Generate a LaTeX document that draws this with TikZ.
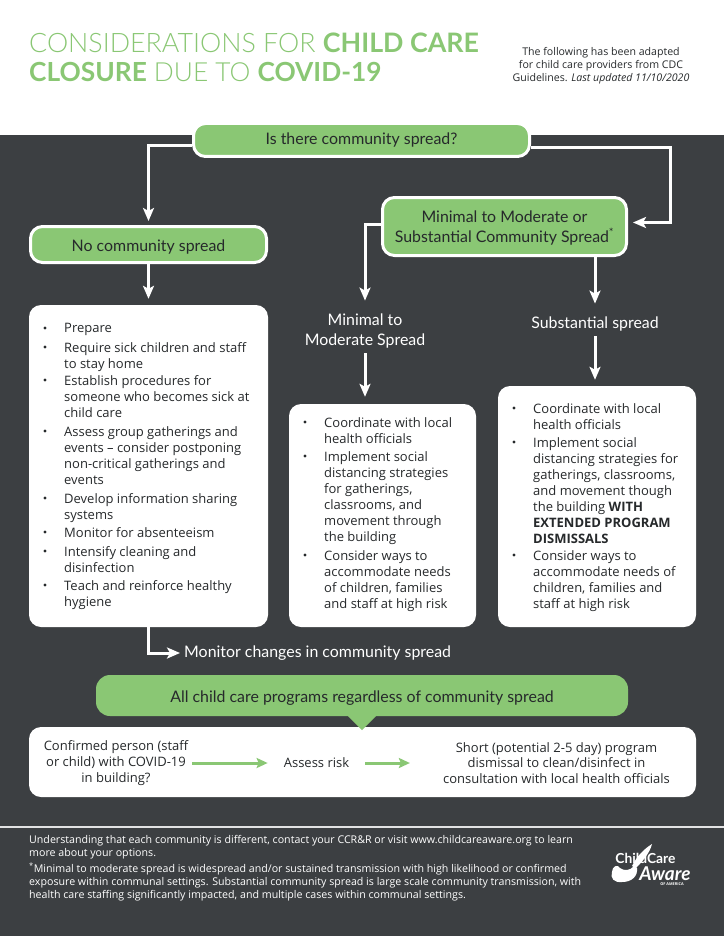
\documentclass[tikz,border=0pt]{standalone}
\usepackage{fontspec}
\usetikzlibrary{arrows.meta}
\setmainfont{Open Sans}
\newfontfamily\headfont{Lato}
\newfontfamily\lightfont{Lato Light}
\definecolor{ccgreen}{HTML}{8AC774}
\definecolor{ccdark}{HTML}{3C3F42}
\definecolor{cctext}{HTML}{26292B}
\tikzset{
 flowbox/.style={draw=white,line width=3pt,fill=ccgreen,rounded corners=12pt,inner sep=0pt,align=center,
  text=cctext,font=\headfont\fontsize{15.9}{20}\selectfont},
 listbox/.style={fill=white,rounded corners=12pt,inner sep=0pt},
 listitem/.style={anchor=north west,inner sep=0pt,yshift=-3.2pt,align=left,text=cctext,font=\fontsize{13}{16}\selectfont},
 flowarrow/.style={draw=white,line width=3pt,-{Stealth[length=13pt,width=11pt,inset=3pt]}},
 greenarrow/.style={draw=ccgreen,line width=3pt,-{Stealth[length=11pt,width=10pt,inset=2pt]}},
 floathead/.style={inner sep=0pt,align=center,text=white,font=\headfont\fontsize{15.9}{20}\selectfont},
 stepnote/.style={inner sep=0pt,yshift=-1pt,align=center,text=cctext,font=\fontsize{13}{15.6}\selectfont},
 footnote/.style={anchor=north west,inner sep=0pt,align=left,text=white,font=\fontsize{10.65}{13}\selectfont}
}
\begin{document}
\begin{tikzpicture}[x=1pt,y=-1pt]
 \useasboundingbox (0,0) rectangle (724,936);
 \path[fill=ccdark] (0,135) rectangle (724,936);
 \path[fill=white!85!ccdark] (0,826) rectangle (724,828);
 % title
 \node[anchor=base west,inner sep=0pt,text=ccgreen,font=\lightfont\fontsize{26.8}{29}\selectfont] (titleone) at (29,53)
  {CONSIDERATIONS FOR {\headfont\bfseries CHILD CARE}};
 \node[anchor=base west,inner sep=0pt,text=ccgreen,font=\lightfont\fontsize{26.3}{29}\selectfont] (titletwo) at (29,82)
  {{\headfont\bfseries CLOSURE} DUE TO {\headfont\bfseries COVID-19}};
 \node[inner sep=0pt,align=center,text=cctext,font=\fontsize{10.6}{13}\selectfont] (adapted) at (601,66)
  {The following has been adapted\\for child care providers from CDC\\Guidelines. \textit{Last updated 11/10/2020}};

 % flow boxes
 \node[flowbox,minimum width=336pt,minimum height=33pt] (isspread) at (361.5,140) {Is there community spread?};
 \node[flowbox,minimum width=236pt,minimum height=36pt,text height=14pt,text depth=0pt] (nospread) at (148.5,244.5) {No community spread};
 \node[flowbox,minimum width=244pt,minimum height=58pt,text depth=0pt] (minimal) at (504.5,226.5)
  {Minimal to Moderate or\\Substantial Community Spread\textsuperscript{*}};
 \node[floathead] (minimaltext) at (365,331) {Minimal to\\Moderate Spread};
 \node[floathead] (substantialtext) at (595,324) {Substantial spread};
 \node[floathead,anchor=west] (monitor) at (184,653) {Monitor changes in community spread};

 % white boxes
 \node[listbox,minimum width=239pt,minimum height=322pt] (leftbox) at (148.5,466) {};
 \node[listbox,minimum width=187pt,minimum height=223pt] (middlebox) at (382.5,515.5) {};
 \node[listbox,minimum width=198pt,minimum height=241pt] (rightbox) at (597,506.5) {};

 % left list
 \path[fill=cctext] (45,328) circle (1.7pt);
 \node[listitem] (prepare) at (64,320) {Prepare};
 \path[fill=cctext] (45,347) circle (1.7pt);
 \node[listitem] (sick) at (64,339) {Require sick children and staff\\to stay home};
 \path[fill=cctext] (45,380) circle (1.7pt);
 \node[listitem] (procedures) at (64,372) {Establish procedures for\\someone who becomes sick at\\child care};
 \path[fill=cctext] (45,431) circle (1.7pt);
 \node[listitem] (gatherings) at (64,423) {Assess group gatherings and\\events -- consider postponing\\non-critical gatherings and\\events};
 \path[fill=cctext] (45,498) circle (1.7pt);
 \node[listitem] (sharing) at (64,490) {Develop information sharing\\systems};
 \path[fill=cctext] (45,532) circle (1.7pt);
 \node[listitem] (absent) at (64,524) {Monitor for absenteeism};
 \path[fill=cctext] (45,551) circle (1.7pt);
 \node[listitem] (cleaning) at (64,543) {Intensify cleaning and\\disinfection};
 \path[fill=cctext] (45,585) circle (1.7pt);
 \node[listitem] (hygiene) at (64,577) {Teach and reinforce healthy\\hygiene};

 % middle list
 \path[fill=cctext] (305,422) circle (1.7pt);
 \node[listitem] (midlocal) at (324,414) {Coordinate with local\\health officials};
 \path[fill=cctext] (305,456) circle (1.7pt);
 \node[listitem] (midsocial) at (324,448) {Implement social\\distancing strategies\\for gatherings,\\classrooms, and\\movement through\\the building};
 \path[fill=cctext] (305,555) circle (1.7pt);
 \node[listitem] (midneeds) at (324,547) {Consider ways to\\accommodate needs\\of children, families\\and staff at high risk};

 % right list
 \path[fill=cctext] (514,408) circle (1.7pt);
 \node[listitem] (rightlocal) at (533,400) {Coordinate with local\\health officials};
 \path[fill=cctext] (514,442) circle (1.7pt);
 \node[listitem] (rightsocial) at (533,434) {Implement social\\distancing strategies for\\gatherings, classrooms,\\and movement though\\the building \textbf{WITH}\\\textbf{EXTENDED PROGRAM}\\\textbf{DISMISSALS}};
 \path[fill=cctext] (514,555) circle (1.7pt);
 \node[listitem] (rightneeds) at (533,547) {Consider ways to\\accommodate needs of\\children, families and\\staff at high risk};

 % bottom part
 \node[listbox,minimum width=667pt,minimum height=70pt] (stepsbox) at (362.5,762) {};
 \node[fill=ccgreen,rounded corners=14pt,inner sep=0pt,minimum width=532pt,minimum height=41pt,text height=14pt,text depth=0pt,
  text=cctext,font=\headfont\fontsize{15.9}{20}\selectfont] (allprograms) at (362,695.5)
  {All child care programs regardless of community spread};
 \path[fill=ccgreen] (348,716)--(376,716)--(362,730)--cycle;
 \node[stepnote] (confirmed) at (116,762) {Confirmed person (staff\\or child) with COVID-19\\in building?};
 \node[stepnote] (assess) at (316.5,762) {Assess risk};
 \node[stepnote] (dismissal) at (556.5,762) {Short (potential 2-5 day) program\\dismissal to clean/disinfect in\\consultation with local health officials};
 \draw[greenarrow,shorten <=4pt,shorten >=16pt] (confirmed.east |- assess) -- (assess);
 \draw[greenarrow,shorten <=16pt,shorten >=33pt] (assess) -- (dismissal.west |- assess);

 % connectors
 \draw[flowarrow,shorten >=4pt] ([yshift=-6pt]isspread.west) -| (nospread.north);
 \coordinate (rightbend) at (670,148);
 \draw[flowarrow,shorten >=5pt] ([yshift=-8pt]isspread.east) -- (rightbend) |- ([yshift=4pt]minimal.east);
 \draw[flowarrow,shorten >=6pt] (nospread.south) -- (leftbox.north);
 \draw[flowarrow,shorten >=13pt] ([yshift=2pt]minimal.west) -| (minimaltext.north);
 \draw[flowarrow,shorten <=5pt,shorten >=7pt] (minimaltext.south) -- (minimaltext.south |- middlebox.north);
 \draw[flowarrow,shorten >=13pt] (substantialtext |- minimal.south) -- (substantialtext.north);
 \draw[flowarrow,shorten <=5pt,shorten >=6pt] (substantialtext.south) -- (substantialtext.south |- rightbox.north);
 \draw[flowarrow,shorten >=4pt] (leftbox.south) |- (monitor.west);

 % footer
 \node[footnote] (understanding) at (29,835.5) {Understanding that each community is different, contact your CCR\&R or visit www.childcareaware.org to learn\\more about your options.};
 \node[footnote] (defined) at (29,863) {\textsuperscript{*}Minimal to moderate spread is widespread and/or sustained transmission with high likelihood or confirmed\\exposure within communal settings. Substantial community spread is large scale community transmission, with\\health care staffing significantly impacted, and multiple cases within communal settings.};

 % logo
 \path[fill=white] (612,872) .. controls (612,866) and (618,864) .. (620,868) .. controls (624,871) and (630,871) .. (634,866) -- (637,868) .. controls (638,876) and (632,882) .. (622,882) .. controls (614,883) and (610,878) .. (612,872) -- cycle;
 \path[fill=white] (632,866) .. controls (637,856) and (644,849) .. (652,844) .. controls (650,852) and (644,860) .. (636,868) -- cycle;
 \node[inner sep=0pt,text=white,font=\headfont\bfseries\fontsize{13.8}{14}\selectfont] (logochild) at (645.5,858) {ChildCare};
 \node[inner sep=0pt,text=white,font=\headfont\bfseries\itshape\fontsize{19}{19}\selectfont] (logoaware) at (665,873.5) {Aware};
 \node[inner sep=0pt,text=white,font=\bfseries\fontsize{3.8}{4}\selectfont] (logoamerica) at (672,884.5) {OF AMERICA};
\end{tikzpicture}
\end{document}
